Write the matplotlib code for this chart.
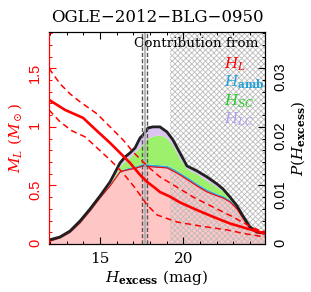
import numpy as np
import matplotlib
matplotlib.use("Agg")
import matplotlib.pyplot as plt
from matplotlib.ticker import MultipleLocator, FuncFormatter

plt.rcParams['font.family'] = 'DejaVu Serif'
plt.rcParams['mathtext.fontset'] = 'dejavuserif'
plt.rcParams['hatch.linewidth'] = 0.6

# H excess grid (mag) for the stacked distributions
h_grid = [11.95, 12.61, 13.21, 13.81, 14.41, 15.01, 15.61, 16.21, 16.51, 16.81,
          17.11, 17.41, 17.59, 17.89, 18.19, 18.60, 19.02, 19.38, 19.80, 20.22,
          20.82, 21.42, 22.02, 22.38, 22.80, 23.22, 23.58, 24.00, 24.42, 24.90]
# contributions to P(H_excess), in units of 1e-3
p_L = [0.43, 1.03, 1.97, 3.59, 5.64, 7.86, 9.91, 12.31, 12.56, 12.74,
       12.91, 13.16, 13.33, 13.25, 13.16, 13.08, 12.99, 12.48, 11.79, 11.03,
       9.91, 8.89, 8.21, 7.86, 7.18, 5.98, 4.36, 2.56, 1.88, 1.71]
p_amb = [0.05, 0.05, 0.08, 0.10, 0.10, 0.12, 0.15, 0.30, 0.35, 0.40,
         0.40, 0.45, 0.45, 0.45, 0.45, 0.45, 0.45, 0.45, 0.45, 0.45,
         0.45, 0.45, 0.40, 0.40, 0.35, 0.25, 0.15, 0.10, 0.05, 0.05]
p_SC = [0.12, 0.03, 0.09, 0.07, 0.07, 0.05, 0.20, 0.72, 1.28, 1.73,
        2.42, 2.97, 3.31, 4.42, 4.85, 5.10, 4.68, 3.82, 2.29, 1.34,
        1.61, 1.43, 1.13, 0.80, 0.16, 0.01, 0.11, 0.08, 0.04, 0.03]
p_LC = [0.08, 0.09, 0.08, 0.17, 0.17, 0.18, 0.34, 0.52, 0.68, 0.69,
        0.68, 1.54, 1.54, 1.71, 1.54, 1.37, 1.03, 1.03, 1.03, 0.51,
        0.51, 0.68, 0.52, 0.34, 0.34, 0.26, 0.17, 0.17, 0.08, 0.09]

# lens mass vs H excess: median and 1-sigma bounds
h_med = [11.95, 12.91, 13.99, 14.89, 15.61, 16.33, 16.81, 17.41, 17.83, 18.30,
         18.60, 19.20, 19.80, 20.82, 21.84, 22.80, 23.82, 24.90]
m_med = [1.231, 1.145, 1.077, 0.957, 0.863, 0.761, 0.692, 0.590, 0.530, 0.479,
         0.444, 0.405, 0.355, 0.290, 0.229, 0.175, 0.132, 0.090]
h_hi = [11.95, 12.61, 13.21, 13.81, 14.83, 15.61, 16.39, 16.99, 17.83, 18.60,
        19.50, 20.58, 21.78, 22.98, 24.18, 24.90]
m_hi = [1.500, 1.368, 1.282, 1.214, 1.111, 1.000, 0.889, 0.786, 0.667, 0.573,
        0.496, 0.402, 0.316, 0.231, 0.137, 0.103]
h_lo = [11.95, 12.61, 13.33, 14.11, 14.83, 15.61, 16.33, 17.11, 17.83, 18.43,
        19.62, 21.00, 22.62, 23.82, 24.90]
m_lo = [1.145, 1.043, 0.966, 0.915, 0.821, 0.718, 0.615, 0.479, 0.333, 0.248,
        0.188, 0.154, 0.120, 0.085, 0.060]

h_source = [17.53, 17.68, 17.83]
h_hatch = 19.2
xlim = (11.95, 24.9)
mlim = (0, 1.81)

h = np.array(h_grid)
s1 = np.array(p_L) * 1e-3
s2 = s1 + np.array(p_amb) * 1e-3
s3 = s2 + np.array(p_SC) * 1e-3
s4 = s3 + np.array(p_LC) * 1e-3

fig = plt.figure(figsize=(3.11, 2.92), dpi=100)
ax = fig.add_axes([49/311, 48/292, 216/311, 212/292])
axm = ax.twinx()

ax.fill_between(h, 0, s1, color='#ffc6c6', lw=0, zorder=1)
ax.axvspan(h_hatch, xlim[1], facecolor='none', edgecolor='#bcbcbc',
           hatch='xxxxxx', lw=0, zorder=1.5)
ax.fill_between(h, s1, s2, color='#2aaee0', lw=0, zorder=2)
ax.fill_between(h, s2, s3, color='#9cf06c', lw=0, zorder=2)
ax.fill_between(h, s3, s4, color='#dcc4f2', lw=0, zorder=2)
ax.plot(h, s1, color='red', lw=0.8, zorder=2.5)
ax.plot(h, s4, color='#202020', lw=2.0, zorder=3)

ax.axvline(h_source[0], color='#555555', lw=1.0, ls=(0, (3, 1.5)), zorder=4)
ax.axvline(h_source[1], color='#aaaaaa', lw=1.2, zorder=4)
ax.axvline(h_source[2], color='#555555', lw=1.0, ls=(0, (3, 1.5)), zorder=4)

ax.set_xlim(*xlim)
ax.set_ylim(mlim[0] / 50, mlim[1] / 50)
ax.xaxis.set_major_locator(MultipleLocator(5))
ax.xaxis.set_minor_locator(MultipleLocator(1))
ax.yaxis.set_major_locator(MultipleLocator(0.01))
ax.yaxis.set_minor_locator(MultipleLocator(0.002))
ax.yaxis.set_major_formatter(FuncFormatter(lambda v, p: '0' if abs(v) < 1e-9 else f'{v:g}'))
ax.yaxis.tick_right()
ax.yaxis.set_label_position('right')
ax.tick_params(axis='x', which='both', direction='in', top=True, labelsize=11, pad=6)
ax.tick_params(axis='both', which='major', length=5, width=0.8)
ax.tick_params(axis='both', which='minor', length=2.5, width=0.7)
ax.tick_params(axis='y', which='both', direction='in', left=False, right=True,
               labelleft=False, labelright=True, labelrotation=90, pad=6,
               labelsize=10.5, labelfontfamily='Liberation Sans')
ax.set_xlabel(r'$H_{\bf excess}$ (mag)', fontsize=11, labelpad=1)
ax.set_ylabel(r'$P(H_{\bf excess})$', fontsize=11, rotation=90, labelpad=1)
ax.set_title('OGLE\u22122012\u2212BLG\u22120950', fontsize=12, pad=7)
ax.spines['left'].set_color('red')

axm.yaxis.tick_left()
axm.yaxis.set_label_position('left')
axm.plot(h_med, m_med, color='red', lw=1.9)
axm.plot(h_hi, m_hi, color='red', lw=1.1, ls=(0, (4, 2.6)))
axm.plot(h_lo, m_lo, color='red', lw=1.1, ls=(0, (4, 2.6)))
axm.set_ylim(*mlim)
axm.yaxis.set_major_locator(MultipleLocator(0.5))
axm.yaxis.set_minor_locator(MultipleLocator(0.1))
axm.yaxis.set_major_formatter(FuncFormatter(lambda v, p: f'{v:g}'))
axm.tick_params(axis='y', which='both', direction='in', left=True, right=False,
                labelleft=True, labelright=False, colors='red', labelrotation=90,
                pad=5, labelsize=10.5, labelfontfamily='Liberation Sans')
axm.tick_params(axis='y', which='major', length=5, width=0.8)
axm.tick_params(axis='y', which='minor', length=2.5, width=0.7)
axm.set_ylabel(r'$M_L\ (M_\odot)$', color='red', fontsize=11, labelpad=3)
axm.spines['left'].set_color('red')

axm.text(0.968, 0.948, 'Contribution from', transform=axm.transAxes,
         ha='right', va='center', fontsize=9.7)
legend_items = [(r'$H_L$', 'red'), (r'$H_{\bf amb}$', '#1ea0d8'),
                (r'$H_{SC}$', '#22cc22'), (r'$H_{LC}$', '#b49cf0')]
for i, (lab, col) in enumerate(legend_items):
    axm.text(0.81, 0.85 - i * 0.088, lab, transform=axm.transAxes,
             ha='left', va='center', fontsize=11, color=col)

fig.savefig('out.png', dpi=100)
